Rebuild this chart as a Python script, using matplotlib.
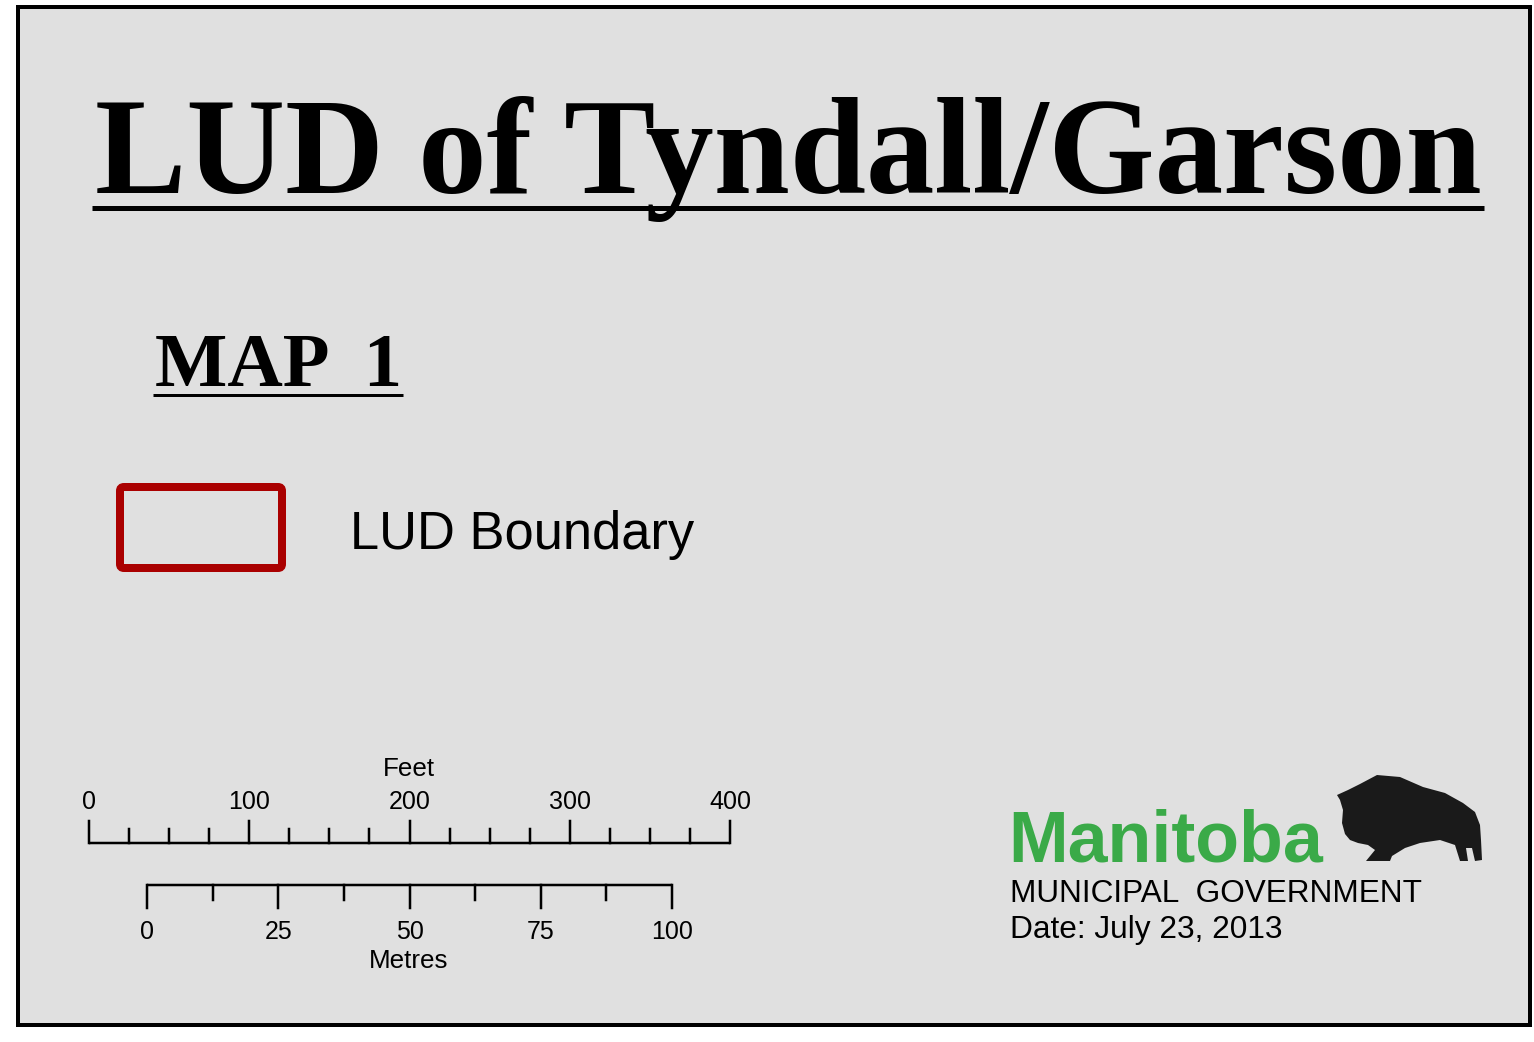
import matplotlib
matplotlib.use('Agg')
import matplotlib.pyplot as plt
from matplotlib.patches import Rectangle, FancyBboxPatch, Polygon
import numpy as np

# text content
title = 'LUD of Tyndall/Garson'
map_label = 'MAP  1'
legend_label = 'LUD Boundary'
feet_ticks = np.arange(0, 401, 25)
feet_labels = [0, 100, 200, 300, 400]
metre_ticks = np.arange(0, 100.1, 12.5)
metre_labels = [0, 25, 50, 75, 100]
org_lines = ['MUNICIPAL  GOVERNMENT', 'Date: July 23, 2013']

W, H = 1534, 1042
PT = 0.72  # px -> pt at dpi 100

fig = plt.figure(figsize=(W / 100, H / 100), dpi=100)
ax = fig.add_axes([0, 0, 1, 1])
ax.set_xlim(0, W)
ax.set_ylim(H, 0)
ax.axis('off')
renderer = fig.canvas.get_renderer()


def fit_text(x0, x1, y, s, size, **kw):
    # place text left-aligned and rescale so it spans x0..x1
    t = ax.text(x0, y, s, fontsize=size * PT, ha='left', va='baseline', **kw)
    w = t.get_window_extent(renderer).width
    t.set_fontsize(size * PT * (x1 - x0) / w)
    return t


# frame
ax.add_patch(Rectangle((18, 7), 1512, 1018, facecolor='#e0e0e0', edgecolor='black', lw=4 * PT))

# title
fit_text(95, 1482, 193, title, 140, family='Liberation Serif', weight='bold')
ax.plot([92, 1484], [208, 208], color='black', lw=5 * PT, solid_capstyle='butt')

fit_text(155, 402, 386, map_label, 76, family='Liberation Serif', weight='bold')
ax.plot([153, 403], [395, 395], color='black', lw=3 * PT, solid_capstyle='butt')

# legend
ax.add_patch(FancyBboxPatch((120, 487), 162, 81, boxstyle='round,pad=0,rounding_size=4',
                            facecolor='none', edgecolor='#aa0000', lw=8 * PT))
fit_text(350, 695, 549, legend_label, 53, family='Liberation Sans')

# feet scale
fx0, fx1, fy = 89, 730, 843
fs = (fx1 - fx0) / 400
ax.plot([fx0, fx1], [fy, fy], color='black', lw=2.5 * PT, solid_capstyle='butt')
for t in feet_ticks:
    top = fy - 22 if t % 100 == 0 else fy - 14
    ax.plot([fx0 + t * fs] * 2, [fy, top], color='black', lw=2.5 * PT)
for t in feet_labels:
    ax.text(fx0 + t * fs, 809, str(t), family='Liberation Sans', fontsize=25 * PT,
            ha='center', va='baseline')
ax.text(409, 776, 'Feet', family='Liberation Sans', fontsize=26 * PT, ha='center', va='baseline')

# metre scale
mx0, mx1, my = 147, 672, 885
ms = (mx1 - mx0) / 100
ax.plot([mx0, mx1], [my, my], color='black', lw=2.5 * PT, solid_capstyle='butt')
for t in metre_ticks:
    bot = my + 23 if t % 25 == 0 else my + 15
    ax.plot([mx0 + t * ms] * 2, [my, bot], color='black', lw=2.5 * PT)
for t in metre_labels:
    ax.text(mx0 + t * ms, 939, str(t), family='Liberation Sans', fontsize=25 * PT,
            ha='center', va='baseline')
ax.text(409, 968, 'Metres', family='Liberation Sans', fontsize=26 * PT, ha='center', va='baseline')

# Manitoba logo
fit_text(1008, 1323, 861, 'Manitoba', 84, family=['Liberation Sans Narrow', 'Liberation Sans'],
         weight='bold', color='#3aaa48')
bison = [(1337, 795), (1348, 790), (1360, 784), (1377, 775), (1400, 777), (1423, 787),
         (1445, 793), (1463, 803), (1475, 812), (1480, 825), (1481, 840), (1482, 860),
         (1475, 861), (1472, 848), (1466, 848), (1468, 861), (1460, 861), (1455, 845),
         (1440, 840), (1420, 843), (1405, 848), (1392, 856), (1390, 861), (1366, 861),
         (1375, 850), (1368, 845), (1358, 843), (1350, 840), (1345, 834), (1342, 823),
         (1343, 810), (1340, 800)]
ax.add_patch(Polygon(bison, closed=True, facecolor='#1a1a1a', edgecolor='none'))

fit_text(1010, 1423, 902, org_lines[0], 31.6, family='Liberation Sans')
fit_text(1010, 1283, 938, org_lines[1], 31.6, family='Liberation Sans')

fig.savefig('out.png', dpi=100, facecolor='white')
